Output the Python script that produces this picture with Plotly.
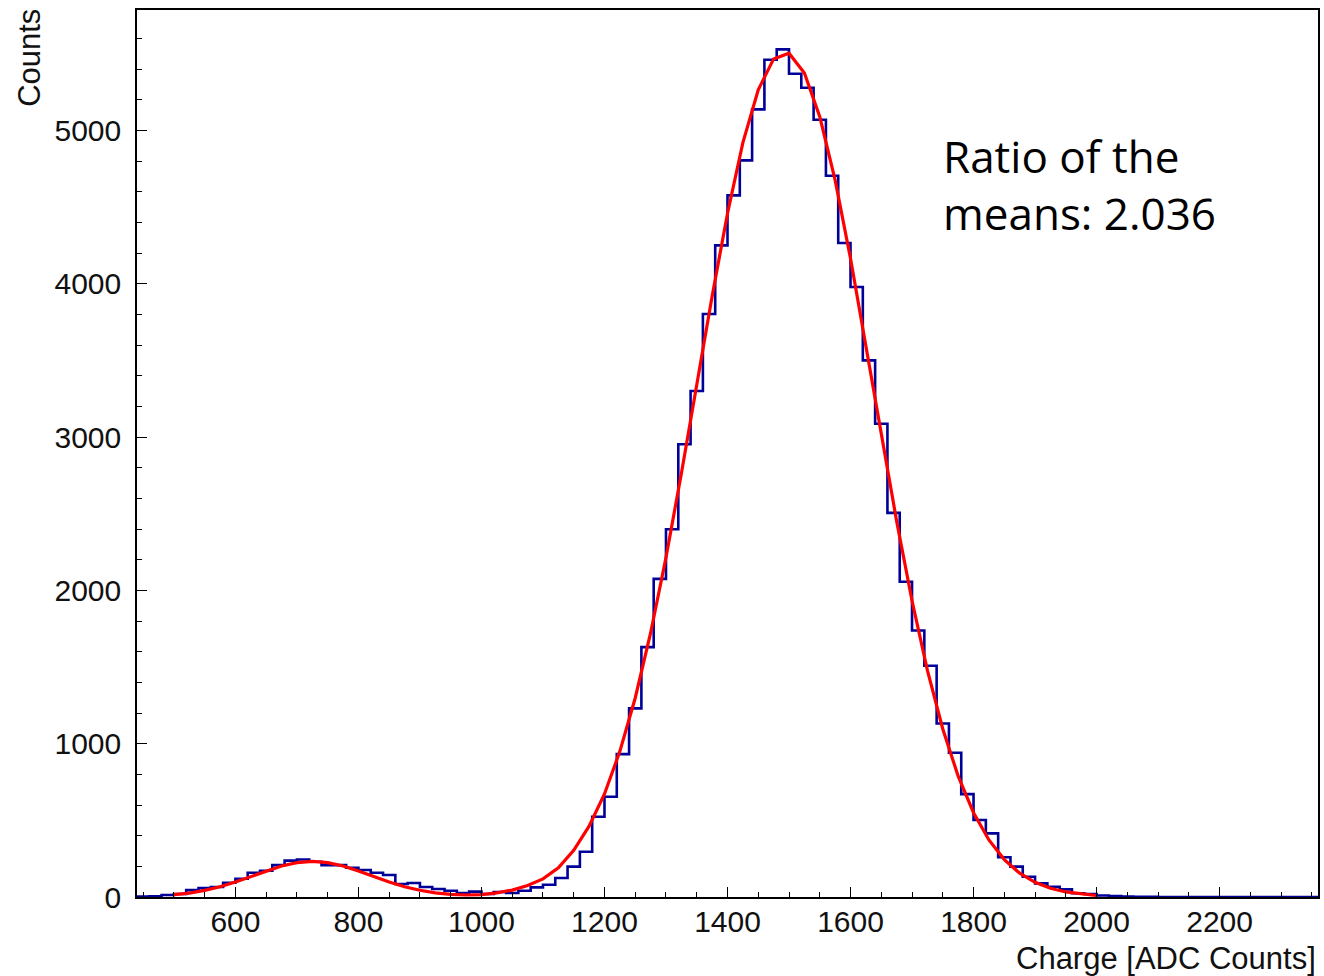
import numpy as np
import plotly.graph_objects as go

# ---------------- data ----------------
BIN_START = 440
BIN_WIDTH = 20
COUNTS = [
    3, 5, 13, 20, 45, 58, 65, 93, 119, 158,
    171, 208, 237, 245, 230, 208, 208, 191, 176, 158,
    143, 85, 91, 65, 52, 41, 26, 35, 20, 33,
    26, 41, 63, 80, 124, 198, 295, 523, 654, 932,
    1230, 1630, 2075, 2398, 2953, 3300, 3802, 4250, 4576, 4804,
    5137, 5461, 5528, 5369, 5278, 5069, 4704, 4265, 3978, 3500,
    3087, 2505, 2056, 1738, 1508, 1132, 941, 671, 502, 415,
    259, 198, 132, 89, 67, 50, 24, 20, 10, 6,
    3, 2, 1, 0, 0, 0, 0, 0, 0, 0,
    0, 0, 0, 0, 0, 0,
]

FIT_X = [500, 525, 550, 575, 600, 625, 650, 675, 700, 725,
         750, 775, 800, 825, 850, 875, 900, 925, 950, 975,
         1000, 1025, 1050, 1075, 1100, 1125, 1150, 1175, 1200, 1225,
         1250, 1275, 1300, 1325, 1350, 1375, 1400, 1425, 1450, 1475,
         1500, 1525, 1550, 1575, 1600, 1625, 1650, 1675, 1700, 1725,
         1750, 1775, 1800, 1825, 1850, 1875, 1900, 1925, 1950, 1975,
         2000]
FIT_Y = [15, 25, 43, 67, 98, 133, 170, 202, 224, 232,
         224, 202, 170, 133, 98, 67, 44, 27, 17, 13,
         16, 27, 45, 75, 118, 190, 305, 462, 672, 950,
         1298, 1722, 2214, 2762, 3340, 3918, 4458, 4920, 5265, 5466,
         5503, 5374, 5089, 4675, 4164, 3598, 3016, 2451, 1932, 1478,
         1096, 788, 550, 372, 244, 155, 96, 57, 33, 19,
         10]

X_RANGE = [440, 2360]
Y_RANGE = [0, 5785]
X_TITLE = "Charge [ADC Counts]"
Y_TITLE = "Counts"
NOTE = "Ratio of the<br>means: 2.036"

# ---------------- figure ----------------
counts = np.array(COUNTS, dtype=float)
edges = BIN_START + BIN_WIDTH * np.arange(len(counts) + 1)
step_y = np.append(counts, counts[-1])

fig = go.Figure()
fig.add_trace(go.Scatter(
    x=edges, y=step_y, mode="lines",
    line=dict(color="#000099", width=2.6, shape="hv"),
    hoverinfo="skip", showlegend=False,
))
fig.add_trace(go.Scatter(
    x=FIT_X, y=FIT_Y, mode="lines",
    line=dict(color="#ff0000", width=3.2),
    hoverinfo="skip", showlegend=False,
))

axis_font = dict(family="Liberation Sans, Arial, sans-serif", size=30, color="#111111")

fig.update_layout(
    width=1324, height=976,
    margin=dict(l=137, r=4, t=10, b=79),
    paper_bgcolor="white", plot_bgcolor="white",
    showlegend=False,
    xaxis=dict(
        range=X_RANGE, showgrid=False, zeroline=False,
        showline=True, linecolor="black", linewidth=1.5, mirror=True,
        ticks="inside", ticklen=10, tickwidth=1.2, tickcolor="black",
        tick0=0, dtick=200, tickfont=axis_font,
        minor=dict(ticks="inside", ticklen=5, tickwidth=1.2, tickcolor="black", dtick=50, tick0=0, showgrid=False),
        ticklabelstandoff=-3,
    ),
    yaxis=dict(
        range=Y_RANGE, showgrid=False, zeroline=False,
        showline=True, linecolor="black", linewidth=1.5, mirror=True,
        ticks="inside", ticklen=10, tickwidth=1.2, tickcolor="black",
        tick0=0, dtick=1000, tickfont=axis_font,
        minor=dict(ticks="inside", ticklen=5, tickwidth=1.2, tickcolor="black", dtick=200, tick0=0, showgrid=False),
        ticklabelstandoff=8,
    ),
)

fig.add_annotation(
    text=X_TITLE, xref="paper", yref="paper", x=1.0, y=-0.069,
    xanchor="right", yanchor="middle", showarrow=False,
    font=dict(family="Liberation Sans, Arial, sans-serif", size=31, color="#111111"),
)
fig.add_annotation(
    text=Y_TITLE, xref="paper", yref="paper", x=-0.091, y=1.003,
    xanchor="center", yanchor="top", textangle=-90, showarrow=False,
    font=dict(family="Liberation Sans, Arial, sans-serif", size=31, color="#111111"),
)
fig.add_annotation(
    text=NOTE, xref="paper", yref="paper", x=0.681, y=0.871,
    xanchor="left", yanchor="top", align="left", showarrow=False,
    font=dict(family="Open Sans, Noto Sans, sans-serif", size=44, color="black"),
)

fig.write_html("out.html")
